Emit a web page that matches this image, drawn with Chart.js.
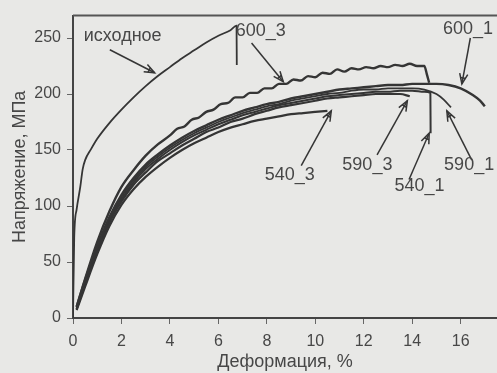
<!DOCTYPE html>
<html><head><meta charset="utf-8">
<script src="https://cdn.jsdelivr.net/npm/chart.js@4/dist/chart.umd.min.js"></script>
<style>html,body{margin:0;padding:0;background:#e8e8e6;overflow:hidden}</style>
</head><body>
<canvas id="c" width="497" height="373"></canvas>
<script>
// ---- data (strain %, stress MPa) ----
const xInit = [0,0.05,0.15,0.3,0.4,0.5,0.75,1,1.5,2,2.5,3,3.5,4,4.5,5,5.5,6,6.5,6.75,6.76];
const yInit = [0,72,97,117,133,141,151,160,174,186,197,207,216,224,232,239,246,252,257,261,226];

const x600_3 = [0.15,0.5,1,1.5,2,2.5,3,3.5,4,4.3,4.6,4.9,5.2,5.5,5.8,6.1,6.4,6.7,7,7.3,7.6,7.9,8.2,8.5,8.8,9.1,9.4,9.7,10,10.3,10.6,10.9,11.2,11.5,11.8,12.1,12.4,12.7,13,13.3,13.6,13.9,14.2,14.5,14.6,14.7];
const y600_3 = [10,35,68,95,117,132,145,155,163,169,171,177,179,184,186,191,192,197,197,201,201,205,205,209,209,213,212,216,215,219,218,222,220,223,222,224,223,225,224,226,225,227,225,225,218,210];

const x600_1 = [0.15,0.5,1,1.5,2,2.5,3,3.5,4,4.5,5,5.5,6,6.5,7,7.5,8,8.5,9,9.5,10,10.5,11,11.5,12,12.5,13,13.5,14,14.5,15,15.5,16,16.5,16.8,17];
const y600_1 = [10,34,64,90,110,125,137,146,154,161,167,172,177,181,185,188,191,193,196,198,200,202,204,205,206,207,208,208,209,209,209,208,205,199,194,189];

const x590_1 = [0.15,0.5,1,1.5,2,2.5,3,3.5,4,4.5,5,5.5,6,6.5,7,7.5,8,8.5,9,9.5,10,10.5,11,11.5,12,12.5,13,13.5,14,14.5,15,15.3,15.6];
const y590_1 = [9,32,62,88,108,123,135,144,152,159,165,170,175,179,183,186,189,191,194,196,198,200,201,203,204,204,205,205,205,204,200,195,188];

const x540_1 = [0.15,0.5,1,1.5,2,2.5,3,3.5,4,4.5,5,5.5,6,6.5,7,7.5,8,8.5,9,9.5,10,10.5,11,11.5,12,12.5,13,13.5,14,14.5,14.75,14.76];
const y540_1 = [8,31,61,87,106,121,133,142,150,157,163,168,173,177,181,184,187,190,192,194,196,198,199,200,201,202,202,203,203,202,201,165];

const x590_3 = [0.15,0.5,1,1.5,2,2.5,3,3.5,4,4.5,5,5.5,6,6.5,7,7.5,8,8.5,9,9.5,10,10.5,11,11.5,12,12.5,13,13.5,13.9];
const y590_3 = [8,30,59,85,104,119,130,140,147,154,160,166,170,175,178,182,185,188,190,192,194,196,197,198,199,200,200,200,198];

const x540_3 = [0.15,0.5,1,1.5,2,2.5,3,3.5,4,4.5,5,5.5,6,6.5,7,7.5,8,8.5,9,9.5,10,10.5];
const y540_3 = [7,28,57,82,101,115,126,135,143,150,156,161,166,170,173,176,178,180,182,183,184,185];

const seriesNames = ['исходное','600_3','600_1','590_1','540_1','590_3','540_3'];
const xTicksStep = 2;
const yTicksStep = 50;

// ---- annotations (in data units) ----
const labelText = ['исходное','600_3','600_1','540_3','590_3','540_1','590_1'];
const labelX    = [2.05, 7.75, 16.3, 8.95, 12.15, 14.3, 16.35];
const labelY    = [252, 256, 258, 128, 137, 118, 137];
const arrowFromX = [1.52, 7.37, 16.4, 9.42, 12.55, 13.87, 16.46];
const arrowFromY = [239.5, 245.6, 250, 136, 145.6, 123.7, 141];
const arrowToX   = [3.37, 8.68, 16.05, 10.66, 13.8, 14.7, 15.43];
const arrowToY   = [219, 211, 209, 185, 194, 165, 185];

function pts(xs, ys){ return xs.map((x,i)=>({x:x, y:ys[i]})); }

const LINE = '#353535';
const TEXT = '#474747';

const annot = {
  id:'annot',
  afterDatasetsDraw(chart){
    const {ctx, chartArea:a, scales:{x, y}} = chart;
    ctx.save();
    ctx.strokeStyle = '#555';
    ctx.lineWidth = 2;
    ctx.beginPath(); ctx.moveTo(a.left, a.top); ctx.lineTo(a.right, a.top); ctx.stroke();
    ctx.strokeStyle = LINE;
    ctx.lineWidth = 1.5;
    for (let i=0;i<arrowFromX.length;i++){
      const x1 = x.getPixelForValue(arrowFromX[i]), y1 = y.getPixelForValue(arrowFromY[i]);
      const x2 = x.getPixelForValue(arrowToX[i]), y2 = y.getPixelForValue(arrowToY[i]);
      ctx.beginPath(); ctx.moveTo(x1,y1); ctx.lineTo(x2,y2); ctx.stroke();
      const ang = Math.atan2(y2-y1, x2-x1);
      const L = 11, w = 0.38;
      ctx.beginPath();
      ctx.moveTo(x2 - L*Math.cos(ang-w), y2 - L*Math.sin(ang-w));
      ctx.lineTo(x2, y2);
      ctx.lineTo(x2 - L*Math.cos(ang+w), y2 - L*Math.sin(ang+w));
      ctx.stroke();
      ctx.beginPath();
      ctx.moveTo(x2 - 0.6*L*Math.cos(ang-w), y2 - 0.6*L*Math.sin(ang-w));
      ctx.lineTo(x2 - 0.55*L*Math.cos(ang), y2 - 0.55*L*Math.sin(ang));
      ctx.lineTo(x2 - 0.6*L*Math.cos(ang+w), y2 - 0.6*L*Math.sin(ang+w));
      ctx.stroke();
    }
    ctx.fillStyle = TEXT;
    ctx.font = '18px "Liberation Sans", Arial, sans-serif';
    ctx.textAlign = 'center';
    ctx.textBaseline = 'middle';
    for (let i=0;i<labelText.length;i++){
      ctx.fillText(labelText[i], x.getPixelForValue(labelX[i]), y.getPixelForValue(labelY[i]));
    }
    ctx.restore();
  }
};

Chart.defaults.font.family = '"Liberation Sans", Arial, sans-serif';
Chart.defaults.color = TEXT;

const mk = (name, xs, ys, w) => ({
  label: name, data: pts(xs, ys), borderColor: LINE, borderWidth: w,
  pointRadius: 0, fill: false, tension: 0, cubicInterpolationMode: 'monotone'
});

new Chart(document.getElementById('c'), {
  type: 'line',
  data: { datasets: [
    mk(seriesNames[0], xInit, yInit, 1.8),
    mk(seriesNames[1], x600_3, y600_3, 2.4),
    mk(seriesNames[2], x600_1, y600_1, 2.4),
    mk(seriesNames[3], x590_1, y590_1, 1.8),
    mk(seriesNames[4], x540_1, y540_1, 2),
    mk(seriesNames[5], x590_3, y590_3, 2.2),
    mk(seriesNames[6], x540_3, y540_3, 2.2)
  ]},
  options: {
    responsive: false, animation: false, devicePixelRatio: 1,
    layout: { padding: { top: 10, right: 0, left: 0, bottom: 0 } },
    plugins: { legend: { display: false }, tooltip: { enabled: false } },
    scales: {
      x: {
        type: 'linear', min: 0, max: 17.5,
        ticks: { stepSize: xTicksStep, includeBounds: false, font: { size: 16 }, color: TEXT, padding: 8, maxRotation: 0 },
        grid: { drawOnChartArea: false, drawTicks: true, tickLength: 6, color: '#666' },
        border: { display: true, color: '#444', width: 2 },
        title: { display: true, text: 'Деформация, %', font: { size: 18 }, color: TEXT, padding: { top: 0, bottom: 0 } },
        afterFit(s){ s.height = 55; }
      },
      y: {
        type: 'linear', min: 0, max: 270,
        ticks: { stepSize: yTicksStep, includeBounds: false, font: { size: 16 }, color: TEXT, padding: 6 },
        grid: { drawOnChartArea: false, drawTicks: true, tickLength: 6, color: '#666' },
        border: { display: true, color: '#444', width: 2 },
        title: { display: true, text: 'Напряжение, МПа', font: { size: 18 }, color: TEXT, padding: { top: 9, bottom: 0 } },
        afterFit(s){ s.width = 73; }
      }
    }
  },
  plugins: [annot, {
    id: 'bg',
    beforeDraw(chart){ const c = chart.ctx; c.save(); c.fillStyle = '#e8e8e6'; c.fillRect(0,0,chart.width,chart.height); c.restore(); }
  }]
});
</script>
</body></html>
